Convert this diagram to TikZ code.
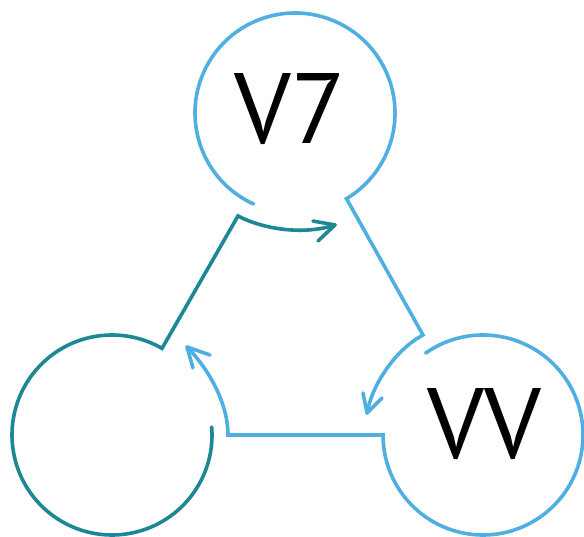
\documentclass[tikz,border=0pt]{standalone}
\usepackage{fontspec}
\setmainfont{PT Sans}
\usetikzlibrary{calc}
\definecolor{tealc}{RGB}{30,135,150}
\definecolor{bluec}{RGB}{80,175,225}
\tikzset{
  loopline/.style={line width=3.6pt, line cap=round, line join=miter},
  headline/.style={line width=3.6pt, line cap=round, line join=round},
  bigtext/.style={font=\fontsize{100}{100}\selectfont, text=black, inner sep=0pt}
}
\begin{document}
\begin{tikzpicture}[x=1pt,y=1pt]
\useasboundingbox (0,0) rectangle (584,537);
% circle centres
\coordinate (T) at (295,424);
\coordinate (L) at (112,102);
\coordinate (R) at (483,102);
% arc ends and corners
\coordinate (Tl) at ($(T)+(245.5:100pt)$);
\coordinate (Ls) at ($(L)+(4.6:100pt)$);
\coordinate (Rs) at ($(R)+(125:100pt)$);
\coordinate (c1) at (238,321);
\coordinate (c2) at (423,202);
\coordinate (c3) at (228,102);
% arrow tips and barb ends
\coordinate (t1) at (335,312);
\coordinate (t1a) at (313,316);
\coordinate (t1b) at (318,296);
\coordinate (t2) at (367,124);
\coordinate (t2a) at (363,144);
\coordinate (t2b) at (382,139);
\coordinate (t3) at (187,190);
\coordinate (t3a) at (210,182);
\coordinate (t3b) at (193,169);
% teal loop (left circle)
\draw[loopline, tealc] (Ls) arc[start angle=4.6, end angle=-300, radius=100pt]
  -- (c1) .. controls (265,307) and (305,302) .. (t1);
\draw[headline, tealc] (t1a) -- (t1) -- (t1b);
% blue loop (top circle)
\draw[loopline, bluec] (Tl) arc[start angle=245.5, end angle=-59, radius=100pt]
  -- (c2) .. controls (395,187) and (372,152) .. (t2);
\draw[headline, bluec] (t2a) -- (t2) -- (t2b);
% blue loop (right circle)
\draw[loopline, bluec] (Rs) arc[start angle=125, end angle=-180, radius=100pt]
  -- (c3) .. controls (228,137) and (205,172) .. (t3);
\draw[headline, bluec] (t3a) -- (t3) -- (t3b);
% labels
\node[bigtext] (top) at (290,428) {V7};
\node[bigtext] (right) at (484,113) {VV};
\end{tikzpicture}
\end{document}
